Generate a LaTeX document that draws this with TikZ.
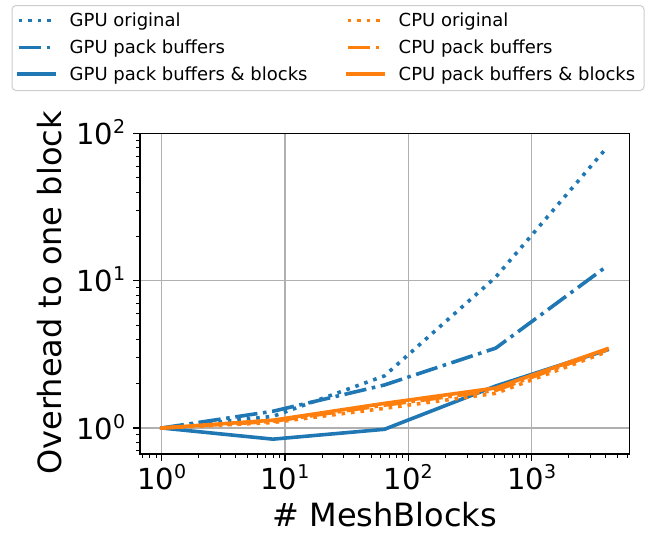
\documentclass[tikz,border=0pt]{standalone}
\usepackage{fontspec}
\setmainfont{DejaVu Sans}
\definecolor{tabblue}{HTML}{1F77B4}
\definecolor{taborange}{HTML}{FF7F0E}
\definecolor{gridgray}{HTML}{B0B0B0}
\definecolor{legedge}{HTML}{CCCCCC}
% power-of-ten tick label with a raised exponent
\newcommand\tenpow[1]{10\raisebox{11pt}{\fontsize{19}{19}\selectfont#1}}
\tikzset{
  series/.style={line width=3.6pt, line join=round},
  dotline/.style={series, dash pattern=on 3.6pt off 5.9pt},
  dashdotline/.style={series, dash pattern=on 22.4pt off 5.6pt on 3.6pt off 5.6pt},
  solidline/.style={series, line cap=rect},
  gridline/.style={draw=gridgray, line width=1.1pt},
  spine/.style={draw=black, line width=1.3pt},
  majortick/.style={draw=black, line width=1.3pt},
  minortick/.style={draw=black, line width=0.9pt},
  ticklabel/.style={inner sep=0pt, font=\fontsize{29}{34}\selectfont},
  axislabel/.style={inner sep=0pt, font=\fontsize{32}{38}\selectfont},
  legendtext/.style={inner sep=0pt, anchor=base west, font=\fontsize{18}{21.6}\selectfont},
  legendframe/.style={draw=legedge, fill=white, line width=1pt, rounded corners=4pt},
}
\begin{document}
\begin{tikzpicture}[x=1pt,y=-1pt]
\useasboundingbox (0,0) rectangle (651,533);

% ---- axes in log10 units: origin at (1,1), one decade = 123.3pt across, 147.2pt up
\begin{scope}[shift={(161.7,428)}, x=123.3pt, y=147.2pt]
  \def\xl{-0.176}\def\xr{3.792}\def\yb{-0.1766}\def\yt{2}
  % grid
  \foreach \k in {0,1,2,3} \draw[gridline] (\k,\yb) -- (\k,\yt);
  \foreach \k in {0,1} \draw[gridline] (\xl,\k) -- (\xr,\k);

  % GPU series
  \draw[dotline, tabblue] (0,0) -- ({log10(8)},{log10(1.2)}) -- ({log10(64)},{log10(2.26)})
     -- ({log10(512)},{log10(10.6)}) -- ({log10(4096)},{log10(80.7)});
  \draw[dashdotline, tabblue] (0,0) -- ({log10(8)},{log10(1.30)}) -- ({log10(64)},{log10(1.96)})
     -- ({log10(512)},{log10(3.49)}) -- ({log10(4096)},{log10(12.6)});
  \draw[solidline, tabblue] (0,0) -- ({log10(8)},{log10(0.84)}) -- ({log10(64)},{log10(0.98)})
     -- ({log10(512)},{log10(1.93)}) -- ({log10(4096)},{log10(3.39)});
  % CPU series
  \draw[dotline, taborange] (0,0) -- ({log10(8)},{log10(1.09)}) -- ({log10(64)},{log10(1.36)})
     -- ({log10(512)},{log10(1.72)}) -- ({log10(4096)},{log10(3.30)});
  \draw[dashdotline, taborange] (0,0) -- ({log10(8)},{log10(1.11)}) -- ({log10(64)},{log10(1.43)})
     -- ({log10(512)},{log10(1.80)}) -- ({log10(4096)},{log10(3.40)});
  \draw[solidline, taborange] (0,0) -- ({log10(8)},{log10(1.13)}) -- ({log10(64)},{log10(1.47)})
     -- ({log10(512)},{log10(1.87)}) -- ({log10(4096)},{log10(3.45)});

  % frame
  \draw[spine] (\xl,\yb) rectangle (\xr,\yt);

  % y ticks
  \foreach \k in {0,1,2} \draw[majortick] (\xl,\k) -- ++(-7pt,0pt);
  \foreach \v in {0.7,0.8,0.9,2,3,4,5,6,7,8,9,20,30,40,50,60,70,80,90}
    \draw[minortick] (\xl,{log10(\v)}) -- ++(-4pt,0pt);
  % x ticks
  \foreach \k in {0,1,2,3} \draw[majortick] (\k,\yb) -- ++(0pt,-7pt);
  \foreach \v in {0.7,0.8,0.9,2,3,4,5,6,7,8,9,20,30,40,50,60,70,80,90,
                  200,300,400,500,600,700,800,900,2000,3000,4000,5000,6000}
    \draw[minortick] ({log10(\v)},\yb) -- ++(0pt,-4pt);

  % tick labels
  \foreach \k in {0,1,2}
    \node[ticklabel, anchor=base east] (ylab\k) at ([xshift=-14.5pt,yshift=-11pt]\xl,\k) {\tenpow{\k}};
  \foreach \k in {0,1,2,3}
    \node[ticklabel, anchor=base] (xlab\k) at ([yshift=-35.3pt]\k,\yb) {\tenpow{\k}};
\end{scope}

% axis titles
\node[axislabel, rotate=90, anchor=base] (ytitle) at (61,293) {Overhead to one block};
\node[axislabel, anchor=base] (xtitle) at (384.7,526.5) {\# MeshBlocks};

% legend
\draw[legendframe] (12,5.5) rectangle (644,90.5);
\draw[dotline, tabblue] (18.5,20.5) -- (54.5,20.5);
\draw[dashdotline, tabblue] (18.5,47.3) -- (54.5,47.3);
\draw[solidline, tabblue] (18.5,74) -- (54.5,74);
\draw[dotline, taborange] (347.5,20.5) -- (383.5,20.5);
\draw[dashdotline, taborange] (347.5,47.3) -- (383.5,47.3);
\draw[solidline, taborange] (347.5,74) -- (383.5,74);
\node[legendtext] (lgo) at (69.5,26.7) {GPU original};
\node[legendtext] (lgp) at (69.5,53.3) {GPU pack buffers};
\node[legendtext] (lgb) at (69.5,80) {GPU pack buffers \& blocks};
\node[legendtext] (lco) at (398.5,26.7) {CPU original};
\node[legendtext] (lcp) at (398.5,53.3) {CPU pack buffers};
\node[legendtext] (lcb) at (398.5,80) {CPU pack buffers \& blocks};
\end{tikzpicture}
\end{document}
